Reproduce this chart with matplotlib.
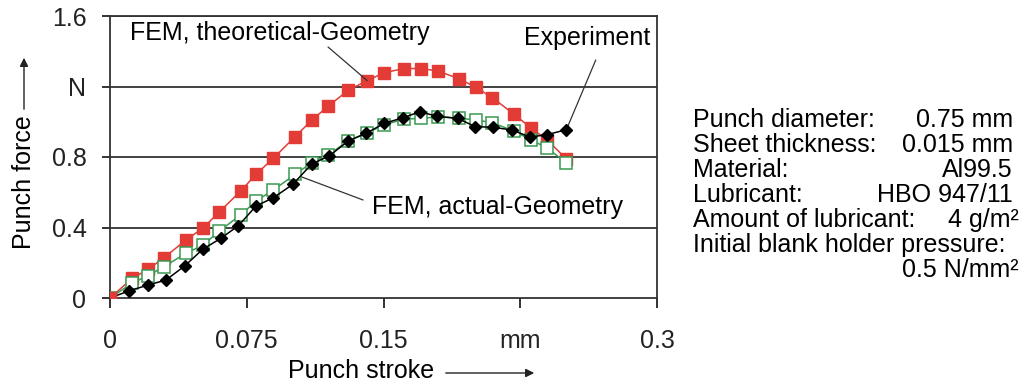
import numpy as np
import matplotlib
matplotlib.use("Agg")
import matplotlib.pyplot as plt

plt.rcParams['font.family'] = ['Liberation Sans', 'DejaVu Sans']

# Punch stroke [mm] and punch force [N]
x_theo = [0, 0.0122, 0.0210, 0.0296, 0.0417, 0.0512, 0.0599, 0.0717, 0.0801, 0.0896,
          0.1015, 0.1106, 0.1196, 0.1308, 0.1411, 0.1503, 0.1612, 0.1708, 0.1798, 0.1914,
          0.2006, 0.2097, 0.2217, 0.2307, 0.2398, 0.2503]
f_theo = [0, 0.112, 0.163, 0.229, 0.329, 0.399, 0.488, 0.607, 0.702, 0.793,
          0.915, 1.008, 1.088, 1.180, 1.233, 1.278, 1.302, 1.302, 1.288, 1.244,
          1.196, 1.136, 1.042, 0.966, 0.896, 0.789]

x_act = x_theo
f_act = [0, 0.085, 0.127, 0.178, 0.254, 0.301, 0.380, 0.471, 0.550, 0.613,
         0.701, 0.768, 0.811, 0.893, 0.938, 0.982, 1.015, 1.019, 1.028, 1.021,
         1.010, 0.995, 0.946, 0.898, 0.851, 0.766]

x_exp = [0, 0.0106, 0.0210, 0.0307, 0.0411, 0.0508, 0.0607, 0.0704, 0.0801, 0.0896,
         0.1003, 0.1106, 0.1202, 0.1307, 0.1404, 0.1504, 0.1605, 0.1700, 0.1793, 0.1907,
         0.2004, 0.2098, 0.2206, 0.2303, 0.2398, 0.2503]
f_exp = [0, 0.041, 0.074, 0.102, 0.183, 0.276, 0.338, 0.410, 0.522, 0.569,
         0.645, 0.760, 0.806, 0.891, 0.934, 0.991, 1.022, 1.057, 1.031, 1.019,
         0.972, 0.969, 0.953, 0.913, 0.927, 0.955]

xticks = [0, 0.075, 0.15, 0.225, 0.3]
xticklabels = ["0", "0.075", "0.15", "mm", "0.3"]
yticks = [0, 0.4, 0.8, 1.2, 1.6]
yticklabels = ["0", "0.4", "0.8", "N", "1.6"]

params = [("Punch diameter:", "0.75 mm"),
          ("Sheet thickness:", "0.015 mm"),
          ("Material:", "Al99.5"),
          ("Lubricant:", "HBO 947/11"),
          ("Amount of lubricant:", "4 g/m²"),
          ("Initial blank holder pressure:", ""),
          ("", "0.5 N/mm²")]

red = "#e33b36"
green = "#3a9a52"
W, H = 1021, 385
FS = 18

fig = plt.figure(figsize=(W / 100, H / 100), dpi=100)
ax = fig.add_axes([110 / W, 1 - 298 / H, 547 / W, 282 / H])

ax.set_xlim(0, 0.3)
ax.set_ylim(0, 1.6)
for y in yticks[1:]:
    ax.axhline(y, color="#333333", lw=1.3, zorder=1)

ax.plot(x_theo, f_theo, color=red, lw=1.1, marker="s", ms=8, mfc=red, mec=red, zorder=3)
ax.plot(x_act, f_act, color=green, lw=1.1, marker="s", ms=8, mfc="white", mec=green,
        mew=1.1, zorder=4)
ax.plot(x_exp, f_exp, color="black", lw=1.1, marker="D", ms=6, mfc="black", mec="black",
        zorder=5)
ax.plot([0], [0], marker="s", ms=8, color=red, zorder=6)

ax.set_xticks(xticks)
ax.set_xticklabels(xticklabels, fontsize=FS)
ax.set_yticks(yticks)
ax.set_yticklabels(yticklabels, fontsize=FS)
ax.tick_params(axis="x", direction="out", length=7, width=1.3, pad=15, colors="#222222")
ax.tick_params(axis="y", direction="out", length=6, width=1.3, pad=11, colors="#222222")

for side in ["left", "bottom", "right", "top"]:
    ax.spines[side].set_linewidth(1.3)
    ax.spines[side].set_color("#333333")

# annotations
ax.text(0.011, 1.504, "FEM, theoretical-Geometry", fontsize=FS, va="center", ha="left")
ax.annotate("", xy=(x_theo[14], f_theo[14]), xytext=(0.1196, 1.424),
            arrowprops=dict(arrowstyle="-", color="#333333", lw=0.9, shrinkA=0, shrinkB=0))
ax.text(0.227, 1.475, "Experiment", fontsize=FS, va="center", ha="left")
ax.annotate("", xy=(x_exp[-1], f_exp[-1]), xytext=(0.2664, 1.35),
            arrowprops=dict(arrowstyle="-", color="#333333", lw=0.9, shrinkA=0, shrinkB=0))
ax.text(0.1435, 0.518, "FEM, actual-Geometry", fontsize=FS, va="center", ha="left")
ax.annotate("", xy=(x_act[10], f_act[10]), xytext=(0.1388, 0.556),
            arrowprops=dict(arrowstyle="-", color="#333333", lw=0.9, shrinkA=0, shrinkB=0))

# axis labels with arrows
fig.text(288 / W, 1 - 371 / H, "Punch stroke", fontsize=FS, ha="left", va="center")
fig.add_artist(matplotlib.patches.FancyArrowPatch(
    (443 / W, 1 - 373 / H), (537 / W, 1 - 373 / H), transform=fig.transFigure,
    arrowstyle="-|>,head_length=5,head_width=2.5", color="#222222", lw=1))
fig.text(24 / W, 1 - 182 / H, "Punch force", fontsize=FS, ha="center", va="center",
         rotation=90)
fig.add_artist(matplotlib.patches.FancyArrowPatch(
    (24 / W, 1 - 112 / H), (24 / W, 1 - 55 / H), transform=fig.transFigure,
    arrowstyle="-|>,head_length=5,head_width=2.5", color="#222222", lw=1))

# parameter box
row_y = [120, 145, 170, 195, 220, 245, 270]
for (lab, val), yy in zip(params, row_y):
    if lab:
        fig.text(693 / W, 1 - yy / H, lab, fontsize=FS, ha="left", va="center")
    if val:
        xr = 1019 if "²" in val else 1013
        fig.text(xr / W, 1 - yy / H, val, fontsize=FS, ha="right", va="center")

fig.savefig("out.png", dpi=100)
